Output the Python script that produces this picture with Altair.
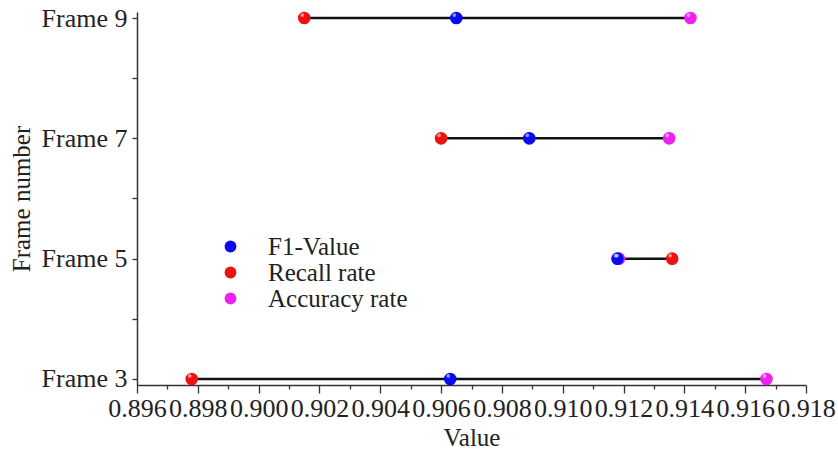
import altair as alt
import pandas as pd

frames = [3, 5, 7, 9]
f1_value = [0.9063, 0.9118, 0.9089, 0.9065]
recall_rate = [0.8978, 0.9136, 0.9060, 0.9015]
accuracy_rate = [0.9167, 0.91185, 0.9135, 0.9142]

metrics = ["F1-Value", "Recall rate", "Accuracy rate"]
colors = ["#0a0aee", "#ee1111", "#ee22ee"]
draw_order = {"Accuracy rate": 0, "Recall rate": 1, "F1-Value": 2}

major_x = [0.896 + 0.002 * i for i in range(12)]
minor_x = [0.897 + 0.002 * i for i in range(11)]
y_ticks = [3, 4, 5, 6, 7, 8, 9]

rows = []
for name, vals in zip(metrics, [f1_value, recall_rate, accuracy_rate]):
    for fr, v in zip(frames, vals):
        rows.append({"frame": fr, "metric": name, "value": v, "ord": draw_order[name]})
df = pd.DataFrame(rows)

FONT = "Liberation Serif"

xscale = alt.Scale(domain=[0.896, 0.918], nice=False, zero=False)
yscale = alt.Scale(domain=[2.9, 9.1], nice=False, zero=False)

y_enc = alt.Y(
    "frame:Q",
    scale=yscale,
    axis=alt.Axis(
        values=y_ticks,
        labelExpr="datum.value % 2 == 1 ? 'Frame ' + datum.value : ''",
        title="Frame number",
        grid=False,
        tickSize=5,
        labelPadding=5,
        titlePadding=7,
    ),
)

base = alt.Chart(df)

lines = base.mark_rule(color="#111111", strokeWidth=2.5).encode(
    x=alt.X(
        "min(value):Q",
        scale=xscale,
        axis=alt.Axis(
            values=major_x,
            format=".3f",
            title="Value",
            grid=False,
            tickSize=8,
            labelPadding=2,
            titlePadding=4,
            orient="bottom",
            labelOverlap=False,
            labelFlush=False,
        ),
    ),
    x2="max(value):Q",
    y=y_enc,
)

points = base.mark_circle(size=160, opacity=1).encode(
    x=alt.X(
        "value:Q",
        scale=xscale,
        axis=alt.Axis(
            values=minor_x,
            labels=False,
            domain=False,
            title=None,
            grid=False,
            tickSize=4,
            orient="bottom",
        ),
    ),
    y=y_enc,
    color=alt.Color(
        "metric:N",
        scale=alt.Scale(domain=metrics, range=colors),
        legend=alt.Legend(
            title=None,
            orient="none",
            legendX=81,
            legendY=222,
            symbolType="circle",
            symbolSize=140,
            labelOffset=25,
            rowPadding=0,
        ),
    ),
    order=alt.Order("ord:Q"),
)

highlight = base.mark_circle(size=14, color="white", opacity=0.55, xOffset=-2, yOffset=-3).encode(
    x=alt.X("value:Q", scale=xscale, axis=None),
    y=y_enc,
    order=alt.Order("ord:Q"),
)

chart = (
    alt.layer(lines, points, highlight)
    .resolve_axis(x="independent")
    .properties(
        width=669,
        height=373,
        autosize=alt.AutoSizeParams(type="none"),
        padding={"left": 137, "top": 12, "right": 32, "bottom": 69},
    )
    .configure_view(stroke=None)
    .configure_axis(
        labelFont=FONT,
        titleFont=FONT,
        labelFontSize=26,
        titleFontSize=25,
        labelColor="#222222",
        titleColor="#222222",
        titleFontWeight="normal",
        domainColor="#333333",
        tickColor="#333333",
        domainWidth=1.5,
        tickWidth=1.3,
    )
    .configure_legend(
        labelFont=FONT,
        labelFontSize=25,
        labelColor="#222222",
    )
)

chart.save("out.html", embed_options={"renderer": "svg", "actions": False})
